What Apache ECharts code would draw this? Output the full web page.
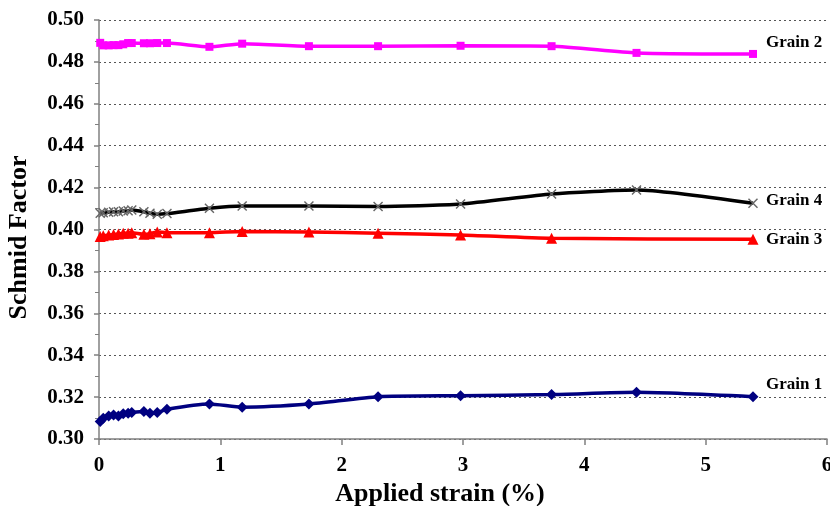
<!DOCTYPE html>
<html>
<head>
<meta charset="utf-8">
<script src="https://cdn.jsdelivr.net/npm/echarts@6/dist/echarts.min.js"></script>
<style>html,body{margin:0;padding:0;background:#fff}#c{width:830px;height:506px}</style>
</head>
<body>
<div id="c"></div>
<script>
const strain = [0.01,0.035,0.08,0.12,0.16,0.2,0.24,0.27,0.37,0.42,0.48,0.56,0.91,1.18,1.73,2.30,2.98,3.73,4.43,5.39];
const grain1 = [0.3083,0.3099,0.3110,0.3115,0.3110,0.3120,0.3123,0.3126,0.3131,0.3123,0.3126,0.3142,0.3167,0.3152,0.3167,0.3202,0.3207,0.3212,0.3223,0.3202];
const grain2 = [0.4891,0.4879,0.4879,0.4880,0.4880,0.4884,0.4890,0.4890,0.4889,0.4889,0.4890,0.4890,0.4872,0.4887,0.4875,0.4875,0.4877,0.4875,0.4843,0.4838];
const grain3 = [0.3966,0.3970,0.3974,0.3976,0.3978,0.3982,0.3982,0.3985,0.3977,0.3980,0.3988,0.3985,0.3985,0.3990,0.3988,0.3982,0.3974,0.3958,null,0.3953];
const grain4 = [0.4078,0.4080,0.4082,0.4085,0.4085,0.4088,0.4090,0.4093,0.4085,0.4078,0.4073,0.4076,0.4101,0.4112,0.4112,0.4110,0.4122,0.4170,0.4189,0.4125];
const seriesNames = ['Grain 1','Grain 2','Grain 3','Grain 4'];
const xTicks = [0,1,2,3,4,5,6];
const yTicks = [0.30,0.32,0.34,0.36,0.38,0.40,0.42,0.44,0.46,0.48,0.50];

const font = 'Liberation Serif, Times New Roman, serif';
function pairs(vals){ return strain.map((s,i)=>[s, vals[i]]); }
function endLbl(offset){
  return {show:true, formatter:'{a}', offset:offset, color:'#000', fontFamily:font, fontWeight:'bold', fontSize:17};
}
const xPath = 'path://M0,1L1,0L5,4L9,0L10,1L6,5L10,9L9,10L5,6L1,10L0,9L4,5Z';

const chart = echarts.init(document.getElementById('c'));
chart.setOption({
  animation:false,
  backgroundColor:'#fff',
  grid:{left:99, right:3, top:20, bottom:67, containLabel:false, outerBoundsMode:'none'},
  xAxis:{
    type:'value', min:xTicks[0], max:xTicks[xTicks.length-1], interval:1,
    name:'Applied strain (%)', nameLocation:'middle', nameGap:40,
    nameTextStyle:{fontFamily:font, fontWeight:'bold', fontSize:26, color:'#000', padding:[0,46,0,0]},
    axisLine:{show:true, lineStyle:{color:'#808080', width:1.5}},
    axisTick:{show:true, length:6, lineStyle:{color:'#808080', width:1.5}},
    axisLabel:{fontFamily:font, fontWeight:'bold', fontSize:21, color:'#000', margin:16},
    splitLine:{show:false}
  },
  yAxis:{
    type:'value', min:yTicks[0], max:yTicks[yTicks.length-1], interval:0.02,
    name:'Schmid Factor', nameLocation:'middle', nameGap:67,
    nameTextStyle:{fontFamily:font, fontWeight:'bold', fontSize:26, color:'#000', padding:[0,0,0,-16]},
    axisLine:{show:true, lineStyle:{color:'#808080', width:1.5}},
    axisTick:{show:true, length:5, lineStyle:{color:'#808080', width:1.5}},
    minorTick:{show:true, splitNumber:2, length:4, lineStyle:{color:'#808080', width:1}},
    axisLabel:{fontFamily:font, fontWeight:'bold', fontSize:21, color:'#000', margin:15, formatter:v=>v.toFixed(2)},
    splitLine:{show:true, lineStyle:{color:'#555', type:[2,3], width:1}}
  },
  series:[
    {name:seriesNames[0], type:'line', data:pairs(grain1), smooth:0.2, symbol:'diamond', symbolSize:11,
     lineStyle:{color:'#000080', width:3.5}, itemStyle:{color:'#000080'}, endLabel:endLbl([5,-12]), z:3},
    {name:seriesNames[1], type:'line', data:pairs(grain2), smooth:0.2, symbol:'rect', symbolSize:8,
     lineStyle:{color:'#ff00ff', width:3.5}, itemStyle:{color:'#ff00ff'}, endLabel:endLbl([5,-11]), z:3},
    {name:seriesNames[2], type:'line', data:pairs(grain3), smooth:0.2, connectNulls:true, symbol:'triangle', symbolSize:11,
     lineStyle:{color:'#ff0000', width:3.5}, itemStyle:{color:'#ff0000'}, endLabel:endLbl([5,0]), z:3},
    {name:seriesNames[3], type:'line', data:pairs(grain4), smooth:0.2, symbol:xPath, symbolSize:10,
     lineStyle:{color:'#000', width:3.5}, itemStyle:{color:'#666'}, endLabel:endLbl([5,-3]), z:3}
  ]
});
</script>
</body>
</html>
